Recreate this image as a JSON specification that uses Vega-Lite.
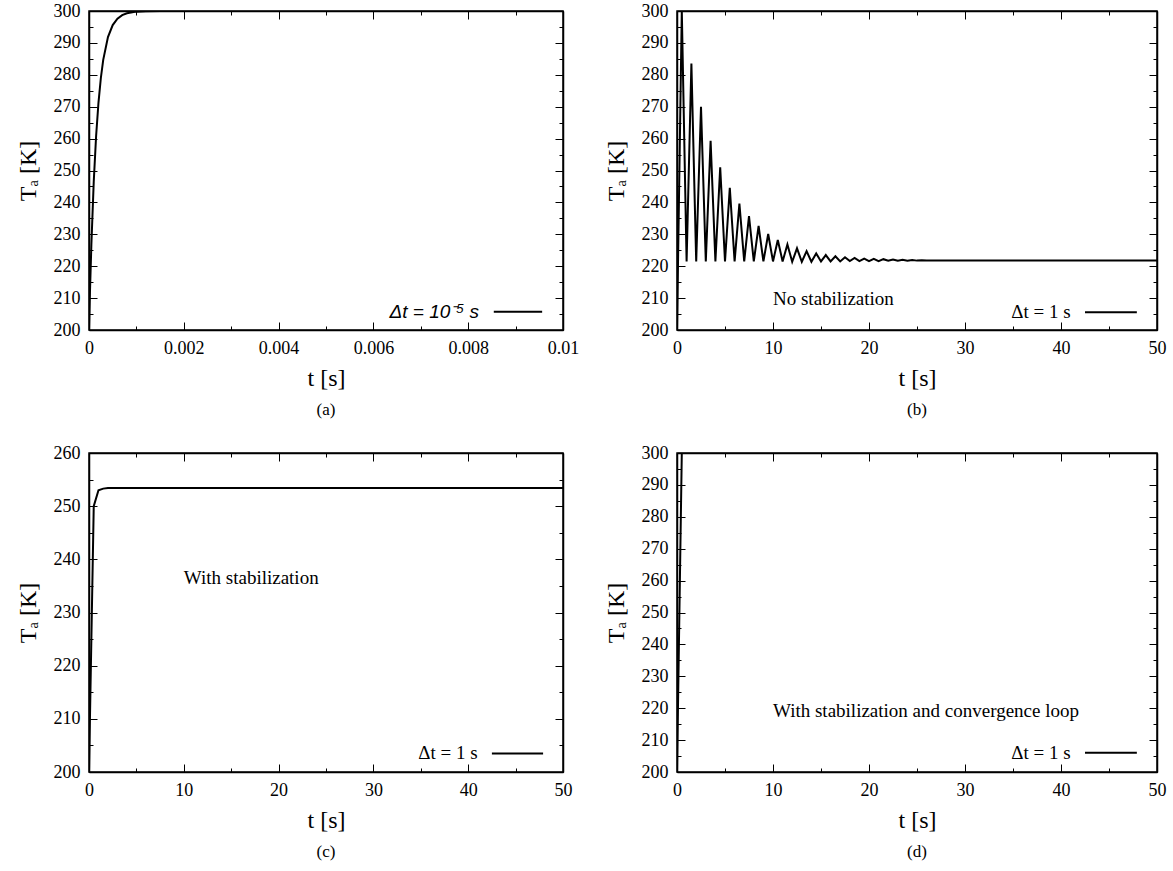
{
  "$schema": "https://vega.github.io/schema/vega-lite/v6.json",
  "padding": {"left": 15, "top": 1, "right": 2, "bottom": 3},
  "background": "white",
  "columns": 2,
  "align": "each",
  "spacing": {"row": 24, "column": 23},
  "config": {
    "view": {"stroke": "black", "strokeWidth": 1.5},
    "axis": {
      "grid": false,
      "domainColor": "black", "domainWidth": 1.5,
      "tickColor": "black", "tickWidth": 1,
      "labelFont": "Liberation Serif", "labelFontSize": 18, "labelColor": "black",
      "labelFlush": false, "labelOverlap": false, "labelBound": false,
      "titleFont": "Liberation Serif", "titleFontSize": 24, "titleFontWeight": "normal", "titleColor": "black"
    },
    "title": {"font": "Liberation Serif", "fontSize": 17, "fontWeight": "normal", "color": "black", "orient": "bottom", "offset": 12}
  },
  "concat": [
    {
      "width": 474, "height": 319,
      "title": {"text": "(a)"},
      "data": {"values": [
        {"t": 0, "T": 200}, {"t": 0.00002, "T": 211.7}, {"t": 0.00005, "T": 226.8}, {"t": 0.0001, "T": 246.5},
        {"t": 0.00015, "T": 260.8}, {"t": 0.0002, "T": 271.3}, {"t": 0.00025, "T": 279.0}, {"t": 0.0003, "T": 284.7},
        {"t": 0.0004, "T": 291.8}, {"t": 0.0005, "T": 295.6}, {"t": 0.0006, "T": 297.6}, {"t": 0.0007, "T": 298.7},
        {"t": 0.0008, "T": 299.3}, {"t": 0.001, "T": 299.8}, {"t": 0.0012, "T": 299.95}, {"t": 0.0015, "T": 300},
        {"t": 0.005, "T": 300}, {"t": 0.01, "T": 300}
      ]},
      "layer": [
        {
          "mark": {"type": "line", "color": "black", "strokeWidth": 2, "clip": true},
          "encoding": {
            "x": {"field": "t", "type": "quantitative", "scale": {"domain": [0, 0.01], "nice": false, "zero": false},
              "axis": {"orient": "bottom", "values": [0, 0.001, 0.002, 0.003, 0.004, 0.005, 0.006, 0.007, 0.008, 0.009, 0.01],
                "tickSize": {"condition": {"test": "round(datum.value * 1000) % 2 === 0", "value": -8}, "value": -4},
                "labelExpr": "round(datum.value * 1000) % 2 === 0 ? format(datum.value, '~g') : ''",
                "labelPadding": 17, "title": "t [s]", "titlePadding": 5}},
            "y": {"field": "T", "type": "quantitative", "scale": {"domain": [200, 300], "nice": false, "zero": false},
              "axis": {"orient": "left", "values": [200, 205, 210, 215, 220, 225, 230, 235, 240, 245, 250, 255, 260, 265, 270, 275, 280, 285, 290, 295, 300],
                "tickSize": {"condition": {"test": "datum.value % 10 === 0", "value": -8}, "value": -4},
                "labelExpr": "datum.value % 10 === 0 ? datum.label : ''",
                "labelPadding": 17, "title": "Tₐ [K]", "titlePadding": 13}}
          }
        },
        {
          "mark": {"type": "line", "opacity": 0},
          "encoding": {
            "x": {"field": "t", "type": "quantitative",
              "axis": {"orient": "top", "values": [0, 0.001, 0.002, 0.003, 0.004, 0.005, 0.006, 0.007, 0.008, 0.009, 0.01],
                "tickSize": {"condition": {"test": "round(datum.value * 1000) % 2 === 0", "value": -8}, "value": -4},
                "labels": false, "title": null}},
            "y": {"field": "T", "type": "quantitative",
              "axis": {"orient": "right", "values": [200, 205, 210, 215, 220, 225, 230, 235, 240, 245, 250, 255, 260, 265, 270, 275, 280, 285, 290, 295, 300],
                "tickSize": {"condition": {"test": "datum.value % 10 === 0", "value": -8}, "value": -4},
                "labels": false, "title": null}}
          }
        },
        {
          "data": {"values": [{"series": "Δt = 10⁻⁵ s"}]},
          "layer": [
            {
              "mark": {"type": "text", "align": "right", "baseline": "middle", "font": "Liberation Sans", "fontStyle": "italic", "fontSize": 19, "color": "black"},
              "encoding": {
                "x": {"datum": 0.00823, "type": "quantitative", "axis": null},
                "y": {"datum": 205.7, "type": "quantitative", "axis": null},
                "text": {"field": "series"}
              }
            },
            {
              "mark": {"type": "rule", "color": "black", "strokeWidth": 2},
              "encoding": {
                "x": {"datum": 0.00854, "type": "quantitative", "axis": null},
                "x2": {"datum": 0.00956},
                "y": {"datum": 205.7, "type": "quantitative", "axis": null}
              }
            }
          ]
        }
      ],
      "resolve": {"axis": {"x": "independent", "y": "independent"}}
    },
    {
      "width": 480, "height": 319,
      "title": {"text": "(b)"},
      "data": {"values": [
        {"t": 0, "T": 200}, {"t": 0.5, "T": 300}, {"t": 1, "T": 221.5}, {"t": 1.5, "T": 283.5}, {"t": 2, "T": 221.5},
        {"t": 2.5, "T": 270}, {"t": 3, "T": 221.5}, {"t": 3.5, "T": 259.3}, {"t": 4, "T": 221.5}, {"t": 4.5, "T": 251},
        {"t": 5, "T": 221.5}, {"t": 5.5, "T": 244.6}, {"t": 6, "T": 221.5}, {"t": 6.5, "T": 239.6}, {"t": 7, "T": 221.5},
        {"t": 7.5, "T": 235.7}, {"t": 8, "T": 221.5}, {"t": 8.5, "T": 232.6}, {"t": 9, "T": 221.5}, {"t": 9.5, "T": 230.1},
        {"t": 10, "T": 221.5}, {"t": 10.5, "T": 228.2}, {"t": 11, "T": 221.5}, {"t": 11.5, "T": 226.8}, {"t": 12, "T": 221.4},
        {"t": 12.5, "T": 225.6}, {"t": 13, "T": 221.4}, {"t": 13.5, "T": 224.7}, {"t": 14, "T": 221.4}, {"t": 14.5, "T": 224.0},
        {"t": 15, "T": 221.5}, {"t": 15.5, "T": 223.5}, {"t": 16, "T": 221.5}, {"t": 16.5, "T": 223.1}, {"t": 17, "T": 221.5},
        {"t": 17.5, "T": 222.8}, {"t": 18, "T": 221.6}, {"t": 18.5, "T": 222.6}, {"t": 19, "T": 221.6}, {"t": 19.5, "T": 222.4},
        {"t": 20, "T": 221.6}, {"t": 20.5, "T": 222.3}, {"t": 21, "T": 221.6}, {"t": 21.5, "T": 222.2}, {"t": 22, "T": 221.7},
        {"t": 22.5, "T": 222.1}, {"t": 23, "T": 221.7}, {"t": 23.5, "T": 222.0}, {"t": 24, "T": 221.7}, {"t": 24.5, "T": 221.95},
        {"t": 25, "T": 221.75}, {"t": 25.5, "T": 221.9}, {"t": 26, "T": 221.8}, {"t": 50, "T": 221.8}
      ]},
      "layer": [
        {
          "mark": {"type": "line", "color": "black", "strokeWidth": 2, "clip": true},
          "encoding": {
            "x": {"field": "t", "type": "quantitative", "scale": {"domain": [0, 50], "nice": false, "zero": false},
              "axis": {"orient": "bottom", "values": [0, 5, 10, 15, 20, 25, 30, 35, 40, 45, 50],
                "tickSize": {"condition": {"test": "datum.value % 10 === 0", "value": -8}, "value": -4},
                "labelExpr": "datum.value % 10 === 0 ? datum.label : ''",
                "labelPadding": 17, "title": "t [s]", "titlePadding": 5}},
            "y": {"field": "T", "type": "quantitative", "scale": {"domain": [200, 300], "nice": false, "zero": false},
              "axis": {"orient": "left", "values": [200, 205, 210, 215, 220, 225, 230, 235, 240, 245, 250, 255, 260, 265, 270, 275, 280, 285, 290, 295, 300],
                "tickSize": {"condition": {"test": "datum.value % 10 === 0", "value": -8}, "value": -4},
                "labelExpr": "datum.value % 10 === 0 ? datum.label : ''",
                "labelPadding": 17, "title": "Tₐ [K]", "titlePadding": 13}}
          }
        },
        {
          "mark": {"type": "line", "opacity": 0},
          "encoding": {
            "x": {"field": "t", "type": "quantitative",
              "axis": {"orient": "top", "values": [0, 5, 10, 15, 20, 25, 30, 35, 40, 45, 50],
                "tickSize": {"condition": {"test": "datum.value % 10 === 0", "value": -8}, "value": -4},
                "labels": false, "title": null}},
            "y": {"field": "T", "type": "quantitative",
              "axis": {"orient": "right", "values": [200, 205, 210, 215, 220, 225, 230, 235, 240, 245, 250, 255, 260, 265, 270, 275, 280, 285, 290, 295, 300],
                "tickSize": {"condition": {"test": "datum.value % 10 === 0", "value": -8}, "value": -4},
                "labels": false, "title": null}}
          }
        },
        {
          "data": {"values": [{"note": "No stabilization"}]},
          "mark": {"type": "text", "align": "left", "baseline": "middle", "font": "Liberation Serif", "fontSize": 19, "color": "black"},
          "encoding": {
            "x": {"datum": 10, "type": "quantitative", "axis": null},
            "y": {"datum": 209.8, "type": "quantitative", "axis": null},
            "text": {"field": "note"}
          }
        },
        {
          "data": {"values": [{"series": "Δt = 1 s"}]},
          "layer": [
            {
              "mark": {"type": "text", "align": "right", "baseline": "middle", "font": "Liberation Serif", "fontSize": 19, "color": "black"},
              "encoding": {
                "x": {"datum": 41, "type": "quantitative", "axis": null},
                "y": {"datum": 205.6, "type": "quantitative", "axis": null},
                "text": {"field": "series"}
              }
            },
            {
              "mark": {"type": "rule", "color": "black", "strokeWidth": 2},
              "encoding": {
                "x": {"datum": 42.5, "type": "quantitative", "axis": null},
                "x2": {"datum": 47.9},
                "y": {"datum": 205.6, "type": "quantitative", "axis": null}
              }
            }
          ]
        }
      ],
      "resolve": {"axis": {"x": "independent", "y": "independent"}}
    },
    {
      "width": 474, "height": 319,
      "title": {"text": "(c)"},
      "data": {"values": [
        {"t": 0, "T": 200}, {"t": 0.5, "T": 250}, {"t": 1, "T": 253.0}, {"t": 1.5, "T": 253.3}, {"t": 2, "T": 253.4}, {"t": 50, "T": 253.4}
      ]},
      "layer": [
        {
          "mark": {"type": "line", "color": "black", "strokeWidth": 2, "clip": true},
          "encoding": {
            "x": {"field": "t", "type": "quantitative", "scale": {"domain": [0, 50], "nice": false, "zero": false},
              "axis": {"orient": "bottom", "values": [0, 5, 10, 15, 20, 25, 30, 35, 40, 45, 50],
                "tickSize": {"condition": {"test": "datum.value % 10 === 0", "value": -8}, "value": -4},
                "labelExpr": "datum.value % 10 === 0 ? datum.label : ''",
                "labelPadding": 17, "title": "t [s]", "titlePadding": 5}},
            "y": {"field": "T", "type": "quantitative", "scale": {"domain": [200, 260], "nice": false, "zero": false},
              "axis": {"orient": "left", "values": [200, 205, 210, 215, 220, 225, 230, 235, 240, 245, 250, 255, 260],
                "tickSize": {"condition": {"test": "datum.value % 10 === 0", "value": -8}, "value": -4},
                "labelExpr": "datum.value % 10 === 0 ? datum.label : ''",
                "labelPadding": 17, "title": "Tₐ [K]", "titlePadding": 13}}
          }
        },
        {
          "mark": {"type": "line", "opacity": 0},
          "encoding": {
            "x": {"field": "t", "type": "quantitative",
              "axis": {"orient": "top", "values": [0, 5, 10, 15, 20, 25, 30, 35, 40, 45, 50],
                "tickSize": {"condition": {"test": "datum.value % 10 === 0", "value": -8}, "value": -4},
                "labels": false, "title": null}},
            "y": {"field": "T", "type": "quantitative",
              "axis": {"orient": "right", "values": [200, 205, 210, 215, 220, 225, 230, 235, 240, 245, 250, 255, 260],
                "tickSize": {"condition": {"test": "datum.value % 10 === 0", "value": -8}, "value": -4},
                "labels": false, "title": null}}
          }
        },
        {
          "data": {"values": [{"note": "With stabilization"}]},
          "mark": {"type": "text", "align": "left", "baseline": "middle", "font": "Liberation Serif", "fontSize": 19, "color": "black"},
          "encoding": {
            "x": {"datum": 10, "type": "quantitative", "axis": null},
            "y": {"datum": 236.5, "type": "quantitative", "axis": null},
            "text": {"field": "note"}
          }
        },
        {
          "data": {"values": [{"series": "Δt = 1 s"}]},
          "layer": [
            {
              "mark": {"type": "text", "align": "right", "baseline": "middle", "font": "Liberation Serif", "fontSize": 19, "color": "black"},
              "encoding": {
                "x": {"datum": 41, "type": "quantitative", "axis": null},
                "y": {"datum": 203.5, "type": "quantitative", "axis": null},
                "text": {"field": "series"}
              }
            },
            {
              "mark": {"type": "rule", "color": "black", "strokeWidth": 2},
              "encoding": {
                "x": {"datum": 42.5, "type": "quantitative", "axis": null},
                "x2": {"datum": 47.9},
                "y": {"datum": 203.5, "type": "quantitative", "axis": null}
              }
            }
          ]
        }
      ],
      "resolve": {"axis": {"x": "independent", "y": "independent"}}
    },
    {
      "width": 480, "height": 319,
      "title": {"text": "(d)"},
      "data": {"values": [
        {"t": 0, "T": 200}, {"t": 0.5, "T": 300}, {"t": 50, "T": 300}
      ]},
      "layer": [
        {
          "mark": {"type": "line", "color": "black", "strokeWidth": 2, "clip": true},
          "encoding": {
            "x": {"field": "t", "type": "quantitative", "scale": {"domain": [0, 50], "nice": false, "zero": false},
              "axis": {"orient": "bottom", "values": [0, 5, 10, 15, 20, 25, 30, 35, 40, 45, 50],
                "tickSize": {"condition": {"test": "datum.value % 10 === 0", "value": -8}, "value": -4},
                "labelExpr": "datum.value % 10 === 0 ? datum.label : ''",
                "labelPadding": 17, "title": "t [s]", "titlePadding": 5}},
            "y": {"field": "T", "type": "quantitative", "scale": {"domain": [200, 300], "nice": false, "zero": false},
              "axis": {"orient": "left", "values": [200, 205, 210, 215, 220, 225, 230, 235, 240, 245, 250, 255, 260, 265, 270, 275, 280, 285, 290, 295, 300],
                "tickSize": {"condition": {"test": "datum.value % 10 === 0", "value": -8}, "value": -4},
                "labelExpr": "datum.value % 10 === 0 ? datum.label : ''",
                "labelPadding": 17, "title": "Tₐ [K]", "titlePadding": 13}}
          }
        },
        {
          "mark": {"type": "line", "opacity": 0},
          "encoding": {
            "x": {"field": "t", "type": "quantitative",
              "axis": {"orient": "top", "values": [0, 5, 10, 15, 20, 25, 30, 35, 40, 45, 50],
                "tickSize": {"condition": {"test": "datum.value % 10 === 0", "value": -8}, "value": -4},
                "labels": false, "title": null}},
            "y": {"field": "T", "type": "quantitative",
              "axis": {"orient": "right", "values": [200, 205, 210, 215, 220, 225, 230, 235, 240, 245, 250, 255, 260, 265, 270, 275, 280, 285, 290, 295, 300],
                "tickSize": {"condition": {"test": "datum.value % 10 === 0", "value": -8}, "value": -4},
                "labels": false, "title": null}}
          }
        },
        {
          "data": {"values": [{"note": "With stabilization and convergence loop"}]},
          "mark": {"type": "text", "align": "left", "baseline": "middle", "font": "Liberation Serif", "fontSize": 19, "color": "black"},
          "encoding": {
            "x": {"datum": 10, "type": "quantitative", "axis": null},
            "y": {"datum": 219.0, "type": "quantitative", "axis": null},
            "text": {"field": "note"}
          }
        },
        {
          "data": {"values": [{"series": "Δt = 1 s"}]},
          "layer": [
            {
              "mark": {"type": "text", "align": "right", "baseline": "middle", "font": "Liberation Serif", "fontSize": 19, "color": "black"},
              "encoding": {
                "x": {"datum": 41, "type": "quantitative", "axis": null},
                "y": {"datum": 206, "type": "quantitative", "axis": null},
                "text": {"field": "series"}
              }
            },
            {
              "mark": {"type": "rule", "color": "black", "strokeWidth": 2},
              "encoding": {
                "x": {"datum": 42.5, "type": "quantitative", "axis": null},
                "x2": {"datum": 47.9},
                "y": {"datum": 206, "type": "quantitative", "axis": null}
              }
            }
          ]
        }
      ],
      "resolve": {"axis": {"x": "independent", "y": "independent"}}
    }
  ]
}
